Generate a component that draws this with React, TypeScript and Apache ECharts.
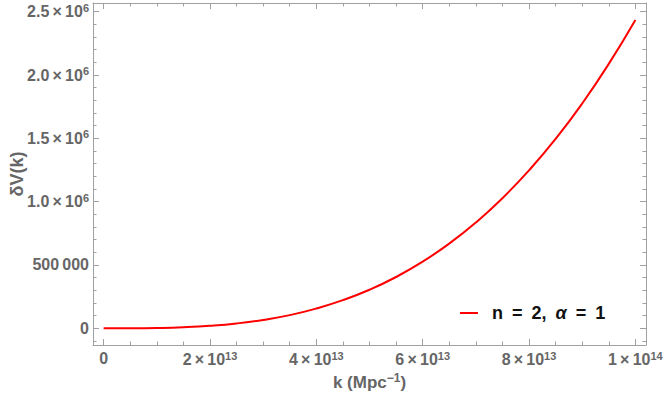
import React, { useEffect, useRef } from "react";
import * as echarts from "echarts";

// ---- data ----
const kValues = [
  0, 5e12, 1e13, 1.5e13, 2e13, 2.5e13, 3e13, 3.5e13, 4e13, 4.5e13, 5e13,
  5.5e13, 6e13, 6.5e13, 7e13, 7.5e13, 8e13, 8.5e13, 9e13, 9.5e13, 1e14,
];
const deltaV = [
  0, 300, 2400, 8200, 19500, 38000, 66000, 104000, 156000, 222000, 304000,
  405000, 526000, 669000, 835000, 1027000, 1247000, 1495000, 1775000, 2088000,
  2435000,
];
const seriesName = "n = 2, α = 1";

const xMajorTicks = [0, 2e13, 4e13, 6e13, 8e13, 1e14];
const xTickLabels = [
  "0",
  "{m|2\u2009×\u200910}{s|13}",
  "{m|4\u2009×\u200910}{s|13}",
  "{m|6\u2009×\u200910}{s|13}",
  "{m|8\u2009×\u200910}{s|13}",
  "{m|1\u2009×\u200910}{s|14}",
];
const xMinorTicks = [
  5e12, 1e13, 1.5e13, 2.5e13, 3e13, 3.5e13, 4.5e13, 5e13, 5.5e13, 6.5e13,
  7e13, 7.5e13, 8.5e13, 9e13, 9.5e13,
];
const yMajorTicks = [0, 5e5, 1e6, 1.5e6, 2e6, 2.5e6];
const yTickLabels = [
  "0",
  "{m|500\u2009000}",
  "{m|1.0\u2009×\u200910}{s|6}",
  "{m|1.5\u2009×\u200910}{s|6}",
  "{m|2.0\u2009×\u200910}{s|6}",
  "{m|2.5\u2009×\u200910}{s|6}",
];
const yMinorTicks = [
  -1e5, 1e5, 2e5, 3e5, 4e5, 6e5, 7e5, 8e5, 9e5, 1.1e6, 1.2e6, 1.3e6, 1.4e6,
  1.6e6, 1.7e6, 1.8e6, 1.9e6, 2.1e6, 2.2e6, 2.3e6, 2.4e6,
];

const X_MIN = -2e12;
const X_MAX = 1.02e14;
const Y_MIN = -132000;
const Y_MAX = 2568700;

const FRAME = "#a0a0a0";
const LABEL = "#666666";
const FONT = "'Liberation Sans', Arial, sans-serif";

const rich = {
  m: { fontSize: 16, fontWeight: "bold", color: LABEL, fontFamily: FONT },
  s: {
    fontSize: 11,
    fontWeight: "bold",
    color: LABEL,
    fontFamily: FONT,
    verticalAlign: "top",
    padding: [0, 0, 8, 0],
  },
};

function tickAxis(
  kind: "x" | "y",
  position: string,
  values: number[],
  len: number,
  showLine: boolean
) {
  const isX = kind === "x";
  return {
    type: "value",
    position,
    min: isX ? X_MIN : Y_MIN,
    max: isX ? X_MAX : Y_MAX,
    axisLine: { show: showLine, onZero: false, lineStyle: { color: FRAME, width: 1 } },
    axisTick: {
      show: true,
      inside: true,
      length: len,
      customValues: values,
      lineStyle: { color: FRAME, width: 1 },
    },
    axisLabel: { show: false },
    splitLine: { show: false },
  };
}

export default function App() {
  const ref = useRef<HTMLDivElement>(null);
  useEffect(() => {
    document.body.style.margin = "0";
    if (!ref.current) return;
    const chart = echarts.init(ref.current, null, { renderer: "svg" });
    const data = kValues.map((k, i) => [k, deltaV[i]]);
    const legendText = {
      fontSize: 18,
      fontWeight: "bold",
      color: "#111",
      fontFamily: FONT,
    };
    chart.setOption({
      animation: false,
      backgroundColor: "#ffffff",
      grid: {
        left: 93,
        right: 18,
        top: 3,
        bottom: 50,
        containLabel: false,
        outerBoundsMode: "none",
      },
      legend: {
        show: true,
        left: 460,
        top: 304,
        padding: 0,
        icon: "rect",
        itemWidth: 18,
        itemHeight: 2,
        data: [{ name: seriesName }],
        formatter: () =>
          "{t|n\u2002=\u20022,\u2002}{i|α}{t|\u2002=\u20021}",
        textStyle: {
          rich: {
            t: legendText,
            i: { ...legendText, fontStyle: "italic" },
          },
          padding: [0, 0, 0, 9],
        },
      },
      xAxis: [
        {
          type: "value",
          position: "bottom",
          min: X_MIN,
          max: X_MAX,
          axisLine: { show: true, onZero: false, lineStyle: { color: FRAME, width: 1 } },
          axisTick: {
            show: true,
            inside: true,
            length: 6,
            customValues: xMajorTicks,
            lineStyle: { color: FRAME, width: 1 },
          },
          axisLabel: {
            show: true,
            customValues: xMajorTicks,
            margin: 5,
            fontSize: 16,
            fontWeight: "bold",
            color: LABEL,
            fontFamily: FONT,
            formatter: (v: number) => {
              const idx = xMajorTicks.findIndex((t) => Math.abs(t - v) < 1e9);
              return idx >= 0 ? xTickLabels[idx] : "";
            },
            rich,
          },
          splitLine: { show: false },
          name: "{m|k (Mpc}{s|\u22121}{m|)}",
          nameLocation: "middle",
          nameGap: 27,
          nameTextStyle: {
            rich: {
              m: { fontSize: 17, fontWeight: "bold", color: LABEL, fontFamily: FONT },
              s: {
                fontSize: 12,
                fontWeight: "bold",
                color: LABEL,
                fontFamily: FONT,
                verticalAlign: "top",
                padding: [0, 0, 8, 0],
              },
            },
          },
        },
        tickAxis("x", "bottom", xMinorTicks, 3.5, false),
        tickAxis("x", "top", xMajorTicks, 6, true),
        tickAxis("x", "top", xMinorTicks, 3.5, false),
      ],
      yAxis: [
        {
          type: "value",
          position: "left",
          min: Y_MIN,
          max: Y_MAX,
          axisLine: { show: true, onZero: false, lineStyle: { color: FRAME, width: 1 } },
          axisTick: {
            show: true,
            inside: true,
            length: 6,
            customValues: yMajorTicks,
            lineStyle: { color: FRAME, width: 1 },
          },
          axisLabel: {
            show: true,
            customValues: yMajorTicks,
            margin: 4,
            fontSize: 16,
            fontWeight: "bold",
            color: LABEL,
            fontFamily: FONT,
            formatter: (v: number) => {
              const idx = yMajorTicks.findIndex((t) => Math.abs(t - v) < 1);
              return idx >= 0 ? yTickLabels[idx] : "";
            },
            rich,
          },
          splitLine: { show: false },
          name: "δV(k)",
          nameLocation: "middle",
          nameGap: 67,
          nameMoveOverlap: false,
          nameTextStyle: {
            fontSize: 18,
            fontWeight: "bold",
            color: LABEL,
            fontFamily: FONT,
          },
        },
        tickAxis("y", "left", yMinorTicks, 3.5, false),
        tickAxis("y", "right", yMajorTicks, 6, true),
        tickAxis("y", "right", yMinorTicks, 3.5, false),
      ],
      series: [
        {
          name: seriesName,
          type: "line",
          xAxisIndex: 0,
          yAxisIndex: 0,
          data,
          smooth: true,
          showSymbol: false,
          symbol: "none",
          lineStyle: { color: "#ff0000", width: 2 },
          itemStyle: { color: "#ff0000" },
        },
      ],
    });
    return () => chart.dispose();
  }, []);
  return <div ref={ref} style={{ width: 664, height: 395 }} />;
}
